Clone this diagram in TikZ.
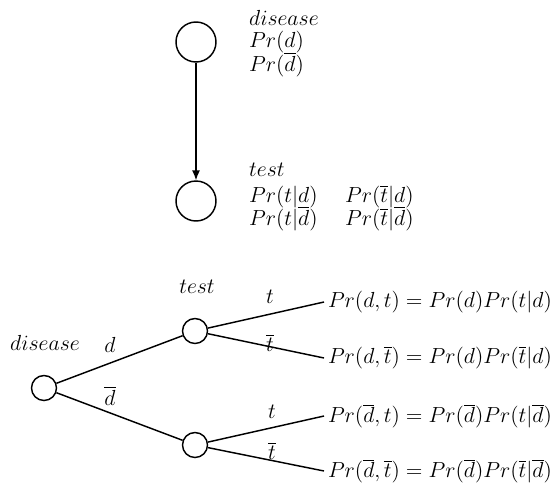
\documentclass[tikz,border=0pt]{standalone}
\usetikzlibrary{positioning,arrows.meta}
\begin{document}
\begin{tikzpicture}[x=0.55pt,y=-0.55pt,font=\large,
  chance/.style={circle,draw,thick,inner sep=0pt},
  bignode/.style={chance,minimum size=22pt},
  smallnode/.style={chance,minimum size=13.75pt},
  txt/.style={anchor=base west,inner sep=1pt},
  prob/.style={anchor=west,inner sep=2pt},
  branch/.style={thick}]
\useasboundingbox (0,0) rectangle (560,483);
% influence diagram
\node[bignode] (dis) at (196,42) {};
\node[bignode] (tst) at (196,201) {};
\draw[thick,-{Latex[length=5.5pt,width=4.5pt]}] (dis) -- (tst);
\node[txt] (disname) at (247,25) {$disease$};
\node[txt] (pd) at (247,47) {$Pr(d)$};
\node[txt] (pnd) at (247,71) {$Pr(\overline{d})$};
\node[txt] (tstname) at (247,176) {$test$};
\node[txt] (ptd) at (247,202) {$Pr(t|d)$};
\node[txt] (ptnd) at (247,225) {$Pr(t|\overline{d})$};
\node[txt] (pntd) at (343,202) {$Pr(\overline{t}|d)$};
\node[txt] (pntnd) at (343,225) {$Pr(\overline{t}|\overline{d})$};
% decision tree
\node[smallnode] (root) at (44,388) {};
\node[smallnode] (up) at (195,331) {};
\node[smallnode] (lo) at (195,445) {};
\node (rootname) at (45,343) {$disease$};
\node (upname) at (197,287) {$test$};
\node[prob] (f1) at (324,302) {$Pr(d,t) = Pr(d)Pr(t|d)$};
\node[prob] (f2) at (324,358) {$Pr(d,\overline{t}) = Pr(d)Pr(\overline{t}|d)$};
\node[prob] (f3) at (324,416) {$Pr(\overline{d},t) = Pr(\overline{d})Pr(t|\overline{d})$};
\node[prob] (f4) at (324,471) {$Pr(\overline{d},\overline{t}) = Pr(\overline{d})Pr(\overline{t}|\overline{d})$};
\draw[branch] (root) -- (up);
\draw[branch] (root) -- (lo);
\draw[branch] (up) -- (f1.west);
\draw[branch] (up) -- (f2.west);
\draw[branch] (lo) -- (f3.west);
\draw[branch] (lo) -- (f4.west);
\node (ld) at (110,345) {$d$};
\node (lnd) at (110,396) {$\overline{d}$};
\node (lt1) at (270,297) {$t$};
\node (lnt1) at (270,343) {$\overline{t}$};
\node (lt2) at (272,412) {$t$};
\node (lnt2) at (272,451) {$\overline{t}$};
\end{tikzpicture}
\end{document}
